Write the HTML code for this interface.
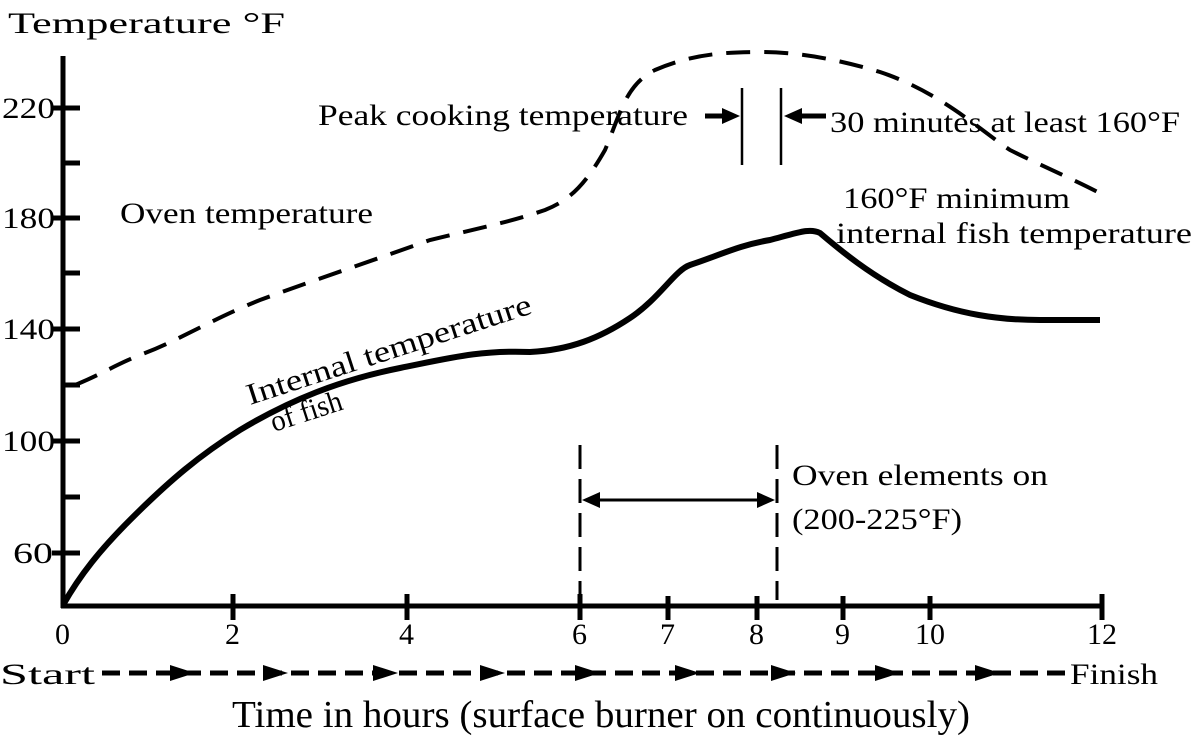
<!DOCTYPE html>
<html><head><meta charset="utf-8"><style>
html,body{margin:0;padding:0;background:#fff;}
svg{display:block}
text{font-family:"Liberation Serif",serif;fill:#000}
</style></head><body>
<svg width="1197" height="750" viewBox="0 0 1197 750" xmlns="http://www.w3.org/2000/svg">
<g stroke="#000" stroke-width="5" fill="none">
<line x1="63" y1="56" x2="63" y2="608"/>
<line x1="61" y1="606" x2="1104" y2="606"/>
<line x1="52" y1="108" x2="80" y2="108"/><line x1="63" y1="163" x2="80" y2="163"/>
<line x1="52" y1="218" x2="80" y2="218"/><line x1="63" y1="273" x2="80" y2="273"/>
<line x1="52" y1="329" x2="80" y2="329"/><line x1="63" y1="385" x2="80" y2="385"/>
<line x1="52" y1="441" x2="80" y2="441"/><line x1="63" y1="497" x2="80" y2="497"/>
<line x1="52" y1="553" x2="80" y2="553"/>
<line x1="233" y1="594" x2="233" y2="620"/><line x1="407" y1="594" x2="407" y2="620"/>
<line x1="580" y1="594" x2="580" y2="620"/><line x1="668" y1="596" x2="668" y2="620"/>
<line x1="757" y1="596" x2="757" y2="620"/><line x1="843" y1="596" x2="843" y2="620"/>
<line x1="930" y1="596" x2="930" y2="620"/><line x1="1102" y1="594" x2="1102" y2="620"/>
</g>
<path d="M75,385 C100,375 115,365 140,355 C180,340 210,320 260,300 C320,278 380,258 430,240 C480,228 510,222 545,210 C570,200 585,185 605,150 C620,115 625,85 655,70 C690,55 720,52 760,52 C800,52 840,60 880,72 C940,92 980,130 1010,150 C1050,170 1080,182 1105,196" stroke="#000" stroke-width="4" fill="none" stroke-dasharray="24,14"/>
<path d="M63,605 C80,575 100,550 130,520 C170,480 200,455 240,430 C290,400 340,380 400,368 C450,358 480,350 530,352 C570,350 600,338 630,318 C660,298 675,270 690,265 C720,255 740,245 770,240 C800,232 810,228 820,233 C840,250 870,275 910,295 C960,315 1000,320 1040,320 C1070,320 1090,320 1100,320" stroke="#000" stroke-width="6" fill="none"/>
<g stroke="#000" stroke-width="3" fill="none">
<line x1="580" y1="445" x2="580" y2="606" stroke-dasharray="24,10"/>
<line x1="777" y1="445" x2="777" y2="600" stroke-dasharray="24,10"/>
<line x1="590" y1="500" x2="768" y2="500"/>
<line x1="742" y1="88" x2="742" y2="165" stroke-width="2.5"/>
<line x1="781" y1="88" x2="781" y2="165" stroke-width="2.5"/>
</g>
<path d="M582,500 L600,492 L600,508 z" fill="#000"/>
<path d="M775,500 L757,492 L757,508 z" fill="#000"/>
<line x1="705" y1="116" x2="725" y2="116" stroke="#000" stroke-width="5"/>
<path d="M740,116 L722,108 L722,124 z" fill="#000"/>
<line x1="800" y1="116" x2="826" y2="116" stroke="#000" stroke-width="5"/>
<path d="M784,116 L802,108 L802,124 z" fill="#000"/>
<line x1="102" y1="673" x2="1066" y2="673" stroke="#000" stroke-width="5" stroke-dasharray="18,9"/>
<g fill="#000">
<path d="M195,673 L170,665 L170,681 z"/><path d="M288,673 L263,665 L263,681 z"/>
<path d="M398,673 L373,665 L373,681 z"/><path d="M505,673 L480,665 L480,681 z"/>
<path d="M600,673 L575,665 L575,681 z"/><path d="M700,673 L675,665 L675,681 z"/>
<path d="M796,673 L771,665 L771,681 z"/><path d="M900,673 L875,665 L875,681 z"/>
<path d="M1000,673 L975,665 L975,681 z"/>
</g>
<g font-size="30" lengthAdjust="spacingAndGlyphs">
<text x="8" y="33" textLength="277" lengthAdjust="spacingAndGlyphs">Temperature °F</text>
<text x="2" y="118" textLength="53" lengthAdjust="spacingAndGlyphs">220</text>
<text x="2" y="228" textLength="53" lengthAdjust="spacingAndGlyphs">180</text>
<text x="2" y="339" textLength="53" lengthAdjust="spacingAndGlyphs">140</text>
<text x="2" y="451" textLength="53" lengthAdjust="spacingAndGlyphs">100</text>
<text x="13" y="563" textLength="40" lengthAdjust="spacingAndGlyphs">60</text>
<text x="55" y="644">0</text>
<text x="225" y="644">2</text><text x="399" y="644">4</text><text x="572" y="644">6</text>
<text x="660" y="644">7</text><text x="749" y="644">8</text><text x="835" y="644">9</text>
<text x="915" y="644">10</text><text x="1087" y="644">12</text>
<text x="0" y="684" textLength="95" lengthAdjust="spacingAndGlyphs">Start</text>
<text x="1070" y="684" textLength="88" lengthAdjust="spacingAndGlyphs">Finish</text>
<text x="120" y="223" textLength="253" lengthAdjust="spacingAndGlyphs">Oven temperature</text>
<text x="318" y="125" textLength="370" lengthAdjust="spacingAndGlyphs">Peak cooking temperature</text>
<text x="830" y="132" textLength="350" lengthAdjust="spacingAndGlyphs">30 minutes at least 160°F</text>
<text x="843" y="208" textLength="227" lengthAdjust="spacingAndGlyphs">160°F minimum</text>
<text x="836" y="243" textLength="356" lengthAdjust="spacingAndGlyphs">internal fish temperature</text>
<text x="792" y="485" textLength="256" lengthAdjust="spacingAndGlyphs">Oven elements on</text>
<text x="792" y="529" textLength="170" lengthAdjust="spacingAndGlyphs">(200-225°F)</text>
<text x="0" y="0" transform="translate(250,405) rotate(-18)" textLength="298" lengthAdjust="spacingAndGlyphs">Internal temperature</text>
<text x="0" y="0" transform="translate(274,432) rotate(-18)" textLength="74" lengthAdjust="spacingAndGlyphs">of fish</text>
</g>
<text x="232" y="727" font-size="38" textLength="738" lengthAdjust="spacingAndGlyphs">Time in hours (surface burner on continuously)</text>
</svg>
</body></html>
